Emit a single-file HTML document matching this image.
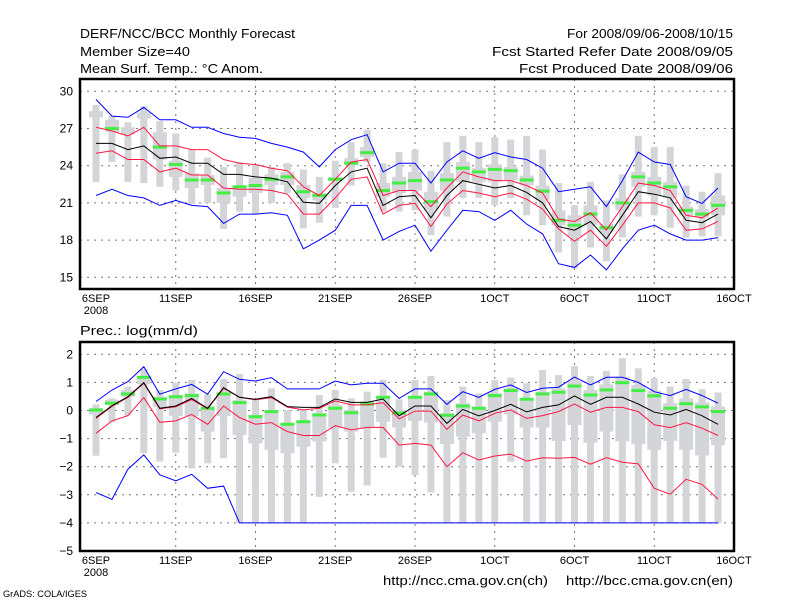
<!DOCTYPE html>
<html><head><meta charset="utf-8"><style>
body{margin:0;background:#fff;}
svg{display:block;font-family:"Liberation Sans",sans-serif;}
</style></head><body>
<svg id="chart" width="800" height="600" viewBox="0 0 800 600"></svg>
<script>
// ---- shared x data ----
const dayLabels = ["6SEP","11SEP","16SEP","21SEP","26SEP","1OCT","6OCT","11OCT","16OCT"];
const dayTickDays = [0,5,10,15,20,25,30,35,40];

// ---- temperature panel data ----
const tTicks = [30,27,24,21,18,15];
const tBlueUp = [29.35,28.0,27.9,28.7,27.7,27.7,27.1,27.1,26.6,26.3,26.2,25.8,25.5,25.1,23.9,25.3,26.1,26.5,23.5,24.2,24.2,22.6,24.3,25.2,24.6,25.05,24.7,24.5,23.8,21.9,22.1,22.3,20.7,22.8,25.1,24.3,24.1,21.5,20.96,22.2];
const tBlueLo = [21.6,22.1,21.6,21.4,20.8,21.2,20.8,20.7,19.35,20.1,20.1,20.2,20.0,17.3,18.0,18.8,20.8,20.8,18.0,18.7,19.2,17.1,18.8,20.4,20.3,19.6,20.4,19.3,18.5,16.1,15.8,16.8,15.6,17.3,18.8,19.2,18.5,18.0,18.0,18.2];
const tRedUp = [27.1,26.8,26.4,27.1,25.6,25.6,25.3,25.3,24.5,24.2,24.1,23.8,23.6,22.3,21.6,22.9,24.3,24.5,21.6,22.0,22.0,20.7,22.2,23.5,23.1,22.8,22.8,22.4,21.8,19.7,19.5,20.2,18.8,20.7,22.6,22.4,22.0,20.0,19.8,20.6];
const tRedLo = [25.0,25.2,24.5,24.5,23.5,23.8,23.25,23.25,22.2,22.1,22.1,22.0,21.7,20.1,20.1,21.4,22.9,23.1,20.1,20.8,20.97,19.1,20.9,22.0,21.8,21.5,21.8,21.3,20.5,18.9,17.9,18.8,17.5,19.2,21.0,21.0,20.6,18.8,18.9,19.5];
const tMean = [25.8,25.8,25.3,25.6,24.6,24.7,24.2,24.2,23.3,23.3,23.1,23.0,22.7,21.05,20.97,22.4,23.5,23.8,20.8,21.5,21.6,19.8,21.6,22.8,22.5,22.2,22.4,21.85,21.0,19.1,18.8,19.5,18.1,20.0,21.9,21.7,21.4,19.6,19.4,20.1];
const tMax = [28.9,28.0,27.5,28.8,27.6,26.6,25.3,24.65,23.9,24.3,24.1,23.9,24.2,23.7,23.1,24.4,25.9,26.9,24.2,25.1,25.3,23.6,25.9,26.4,25.9,26.3,26.1,26.4,25.3,22.6,20.8,22.7,21.2,23.3,26.4,25.5,25.5,22.4,21.9,23.4];
const tMin = [22.7,24.3,22.7,22.6,22.3,22.0,20.9,21.0,18.9,20.3,20.1,21.0,21.8,18.95,19.4,20.6,22.4,24.3,20.3,20.3,20.4,18.4,19.9,21.4,21.4,20.8,21.4,20.0,19.2,17.0,15.7,17.4,16.3,18.2,19.9,20.0,19.0,18.2,18.3,18.3];
const tQ3 = [28.4,27.7,27.1,28.3,26.7,24.4,23.4,23.25,22.2,22.3,23.0,23.3,23.5,22.45,21.8,23.1,24.6,25.5,22.6,23.1,23.5,21.9,23.4,24.3,23.8,24.1,23.9,23.2,22.4,20.4,20.0,20.8,19.3,21.4,23.5,23.1,22.7,20.7,20.5,21.6];
const tQ1 = [27.9,26.7,26.5,27.8,24.5,23.1,22.2,22.45,21.0,21.5,21.8,22.45,22.45,21.4,21.2,22.8,24.1,24.7,21.5,21.8,22.0,20.4,22.0,22.7,22.7,22.7,22.85,22.4,21.2,19.2,18.3,19.2,18.6,20.4,22.3,21.6,21.4,20.0,19.8,20.0];
const tObs = [null,27.0,null,null,25.5,24.1,22.85,22.85,21.8,22.3,22.4,22.9,23.1,21.9,21.6,22.9,24.2,25.05,22.0,22.6,22.8,21.1,22.85,23.8,23.5,23.7,23.6,22.85,21.95,19.6,19.2,20.1,19.0,21.0,23.1,22.6,22.3,20.4,20.1,20.8];

// ---- precipitation panel data ----
const pTicks = [2,1,0,-1,-2,-3,-4,-5];
const pBlueUp = [0.32,0.73,1.03,1.56,0.58,0.77,0.93,0.58,1.38,1.11,1.05,1.17,0.77,0.77,0.77,1.05,0.91,0.97,0.97,0.43,0.77,0.77,0.22,0.67,0.47,0.75,0.91,0.64,0.79,0.83,1.19,0.91,1.18,1.18,1.0,0.67,0.53,0.75,0.53,0.26];
const pBlueLo = [-2.92,-3.16,-2.09,-1.58,-2.29,-2.5,-2.27,-2.77,-2.69,-4,-4,-4,-4,-4,-4,-4,-4,-4,-4,-4,-4,-4,-4,-4,-4,-4,-4,-4,-4,-4,-4,-4,-4,-4,-4,-4,-4,-4,-4,-4];
const pRedUp = [-0.28,0.15,0.47,0.97,0.06,0.13,0.39,0.06,0.79,0.47,0.38,0.46,0.12,0.02,0.08,0.34,0.2,0.2,0.28,-0.3,-0.02,-0.02,-0.67,-0.16,-0.37,-0.1,0.02,-0.28,-0.18,-0.04,0.23,-0.06,0.11,0.11,-0.04,-0.51,-0.61,-0.43,-0.63,-0.89];
const pRedLo = [-0.81,-0.37,-0.18,0.46,-0.42,-0.37,-0.14,-0.49,0.16,-0.25,-0.49,-0.43,-0.75,-0.89,-0.89,-0.54,-0.69,-0.6,-0.6,-1.23,-1.17,-1.23,-2.0,-1.5,-1.76,-1.62,-1.55,-1.8,-1.68,-1.7,-1.67,-1.91,-1.68,-1.84,-1.9,-2.77,-2.98,-2.45,-2.63,-3.15];
const pMean = [-0.25,0.17,0.49,0.99,0.08,0.16,0.43,0.08,0.81,0.47,0.40,0.49,0.14,0.11,0.11,0.41,0.29,0.29,0.41,-0.19,0.16,0.16,-0.46,0.04,-0.19,0.0,0.22,-0.05,0.11,0.2,0.52,0.22,0.47,0.47,0.23,-0.06,-0.16,0.04,-0.19,-0.49];
const pMax = [0.22,0.43,0.85,1.48,0.73,0.99,1.09,0.58,1.12,1.3,0.37,0.79,0.02,0.02,0.55,0.73,0.43,0.67,1.09,0.4,1.09,1.23,0.37,0.85,0.61,1.08,1.17,0.97,1.44,1.26,1.58,1.23,1.41,1.86,1.5,1.15,0.85,1.12,0.76,0.64];
const pMin = [-1.61,-0.42,-0.18,-1.52,-1.82,-1.5,-2.06,-1.88,-1.7,-4,-4,-4,-4,-4,-3.07,-1.88,-2.89,-2.67,-1.68,-2.0,-2.3,-2.92,-4,-4,-4,-4,-1.82,-4,-4,-4,-4,-4,-4,-4,-4,-4,-4,-4,-4,-4];
const pQ3 = [0.08,0.38,0.73,1.24,0.49,0.55,0.61,0.14,0.59,0.37,-0.16,0.02,-0.46,-0.34,-0.1,0.2,0.02,0.32,0.49,0.02,0.49,0.67,-0.1,0.26,0.14,0.61,0.79,0.43,0.67,0.79,1.04,0.73,0.93,1.2,0.91,0.7,0.26,0.43,0.29,0.14];
const pQ1 = [-0.14,0.2,0.49,0.93,0.13,-0.2,-0.2,-0.75,-0.2,-0.87,-1.17,-1.4,-1.52,-1.29,-1.1,-0.63,-0.75,-0.63,-0.4,-0.61,-0.37,-0.43,-1.19,-0.93,-0.81,-0.4,-0.14,-0.61,-0.61,-1.09,-0.52,-1.15,-0.75,-1.1,-1.2,-1.4,-1.08,-1.4,-1.6,-1.23];
const pObs = [0.02,0.26,0.59,1.18,0.41,0.49,0.53,0.08,0.59,0.28,-0.22,-0.04,-0.49,-0.4,-0.16,0.08,-0.08,0.23,0.47,-0.09,0.47,0.59,-0.17,0.16,0.08,0.53,0.71,0.4,0.59,0.65,0.87,0.55,0.73,0.99,0.71,0.52,0.08,0.24,0.13,-0.04];

const NS = "http://www.w3.org/2000/svg";
const svg = document.getElementById('chart');
const X0 = 80, X1 = 734;
function xDay(d){ return 96 + d*15.95; }

function mk(tag, attrs, parent){
  const e = document.createElementNS(NS, tag);
  for (const k in attrs) e.setAttribute(k, attrs[k]);
  (parent||svg).appendChild(e);
  return e;
}
function txt(s, x, y, size, anchor, name, len){
  const t = mk('text', {x:x, y:y, 'font-size':size, 'text-anchor':anchor||'start', fill:'#000'});
  if (len) { t.setAttribute('textLength', len); t.setAttribute('lengthAdjust', 'spacingAndGlyphs'); }
  t.textContent = s;
  
  
  return t;
}

function panel(cfg){
  const g = mk('g', {});
  
  
  const yv = cfg.y;
  cfg.ticks.forEach(v => {
    const y = yv(v);
    if (y > cfg.top + 3 && y < cfg.bot - 3) {
      const l = mk('line', {x1:X0, x2:X1, y1:y, y2:y, stroke:'#777', 'stroke-width':1, 'stroke-dasharray':'2,5'}, g);
      
      
    }
    const t = txt(String(v).replace('-', '\u2212'), 73, y+4, 12, 'end', 'y-tick-label');
    g.appendChild(t);
  });
  dayTickDays.forEach((d, i) => {
    const x = xDay(d);
    if (d > 0 && d < 40) {
      const l = mk('line', {x1:x, x2:x, y1:cfg.top, y2:cfg.bot, stroke:'#777', 'stroke-width':1, 'stroke-dasharray':'2,5'}, g);
      
      
    }
    const t = txt(dayLabels[i], x, cfg.bot + 13, 11, 'middle', 'x-tick-label');
    g.appendChild(t);
  });
  const yr = txt('2008', xDay(0), cfg.bot + 25, 11, 'middle', 'x-year-label');
  g.appendChild(yr);
  for (let d = 0; d < 40; d++) {
    const x = xDay(d);
    const w = mk('rect', {x:x-3.5, y:yv(cfg.max[d]), width:7, height:Math.max(1, yv(cfg.min[d]) - yv(cfg.max[d])), fill:'#d4d5d9'}, g);
    
    
    const b = mk('rect', {x:x-7, y:yv(cfg.q3[d]), width:14, height:Math.max(1, yv(cfg.q1[d]) - yv(cfg.q3[d])), fill:'#d4d5d9'}, g);
    
    
  }
  for (let d = 0; d < 40; d++) {
    if (cfg.obs[d] === null) continue;
    const o = mk('rect', {x:xDay(d)-7, y:yv(cfg.obs[d])-1.5, width:14, height:3, fill:'#44ee44'}, g);
    
    
  }
  function line(arr, color, name){
    const pts = arr.map((v, d) => xDay(d).toFixed(1) + ',' + yv(v).toFixed(1)).join(' ');
    const p = mk('polyline', {points:pts, fill:'none', stroke:color, 'stroke-width':1}, g);
    
    
  }
  line(cfg.blueLo, '#0000ff', 'min-line');
  line(cfg.blueUp, '#0000ff', 'max-line');
  line(cfg.redLo, '#ff1744', 'lower-spread-line');
  line(cfg.redUp, '#ff1744', 'upper-spread-line');
  line(cfg.mean, '#000000', 'ensemble-mean-line');
  const f = mk('rect', {x:X0, y:cfg.top, width:X1-X0, height:cfg.bot-cfg.top, fill:'none', stroke:'#000', 'stroke-width':2.5}, g);
  
  
}

panel({name:'temperature-panel', top:79, bot:289, ticks:tTicks,
  y: v => 91.3 + (30 - v) * 12.4,
  blueUp:tBlueUp, blueLo:tBlueLo, redUp:tRedUp, redLo:tRedLo, mean:tMean,
  max:tMax, min:tMin, q3:tQ3, q1:tQ1, obs:tObs});
panel({name:'precipitation-panel', top:342, bot:551, ticks:pTicks,
  y: v => 354.3 + (2 - v) * 28.1,
  blueUp:pBlueUp, blueLo:pBlueLo, redUp:pRedUp, redLo:pRedLo, mean:pMean,
  max:pMax, min:pMin, q3:pQ3, q1:pQ1, obs:pObs});

txt('DERF/NCC/BCC Monthly Forecast', 80, 38, 13, 'start', 'chart-title', 215);
txt('Member Size=40', 80, 56, 13, 'start', 'member-size-label', 110);
txt('Mean Surf. Temp.: \u00B0C Anom.', 80, 73, 13, 'start', 'temperature-panel-title', 183);
txt('For 2008/09/06-2008/10/15', 733, 38, 13, 'end', 'forecast-period', 166);
txt('Fcst Started Refer Date 2008/09/05', 733, 56, 13, 'end', 'start-date-label', 241);
txt('Fcst Produced Date 2008/09/06', 733, 73, 13, 'end', 'produced-date-label', 214);
txt('Prec.: log(mm/d)', 80, 335, 13, 'start', 'precipitation-panel-title', 118);
txt('http://ncc.cma.gov.cn(ch)', 383, 585, 13, 'start', 'ncc-url', 165);
txt('http://bcc.cma.gov.cn(en)', 566, 585, 13, 'start', 'bcc-url', 167);
txt('GrADS: COLA/IGES', 3, 597, 9, 'start', 'grads-credit', 84);
</script>
</body></html>
